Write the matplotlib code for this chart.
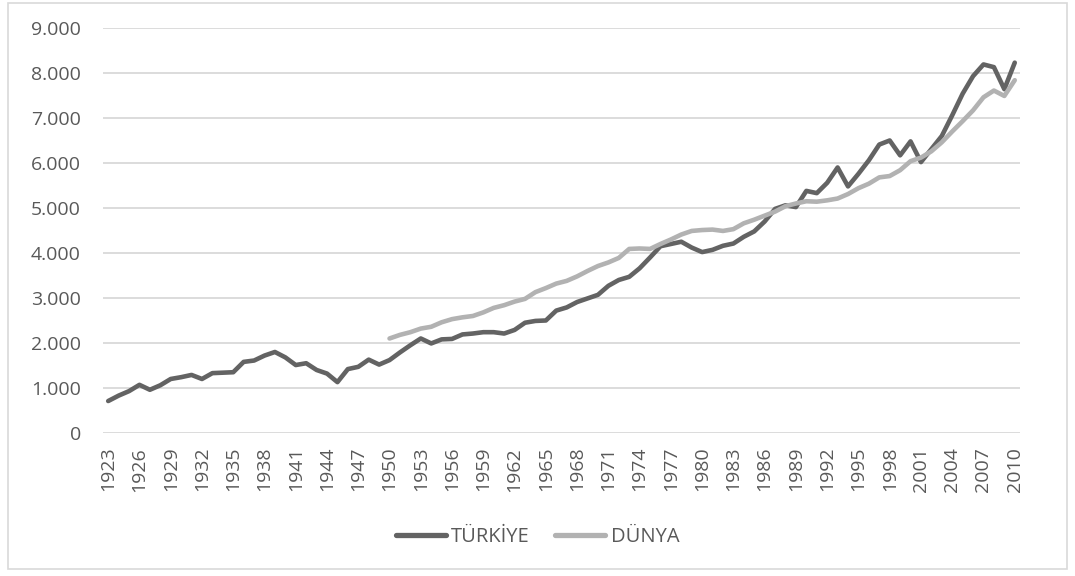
import numpy as np
import matplotlib
matplotlib.use('Agg')
import matplotlib.pyplot as plt
from matplotlib.ticker import FuncFormatter, FixedLocator
from matplotlib.patches import Rectangle

plt.rcParams['font.family'] = ['Open Sans', 'DejaVu Sans']

# Data
tr_years = list(range(1923, 2011))
tr_values = [710, 830, 930, 1070, 960, 1060, 1200, 1240, 1290, 1200,
             1330, 1340, 1350, 1580, 1610, 1720, 1800, 1680, 1510, 1550,
             1400, 1320, 1130, 1420, 1470, 1630, 1520, 1620, 1790, 1950,
             2100, 1990, 2080, 2090, 2190, 2210, 2240, 2240, 2210, 2290,
             2450, 2490, 2500, 2720, 2790, 2910, 2990, 3070, 3270, 3400,
             3470, 3660, 3900, 4150, 4200, 4250, 4120, 4020, 4070, 4160,
             4210, 4360, 4480, 4700, 4980, 5060, 5020, 5380, 5330, 5560,
             5900, 5480, 5760, 6060, 6410, 6500, 6170, 6480, 6020, 6310,
             6600, 7060, 7540, 7930, 8190, 8130, 7640, 8230]

world_years = list(range(1950, 2011))
world_values = [2100, 2180, 2240, 2320, 2360, 2460, 2530, 2570, 2600, 2680,
                2780, 2840, 2920, 2980, 3130, 3220, 3320, 3380, 3480, 3600,
                3710, 3790, 3890, 4090, 4100, 4090, 4200, 4300, 4410, 4490,
                4510, 4520, 4490, 4530, 4660, 4740, 4830, 4920, 5040, 5100,
                5150, 5140, 5170, 5210, 5310, 5440, 5540, 5680, 5710, 5840,
                6040, 6120, 6260, 6460, 6700, 6930, 7170, 7460, 7610, 7490,
                7840]

series_names = ['TÜRKİYE', 'DÜNYA']
tick_years = list(range(1923, 2011, 3))
y_ticks = list(range(0, 9001, 1000))

text_col = '#595959'
grid_col = '#d9d9d9'

fig = plt.figure(figsize=(10.75, 5.76), dpi=100)
ax = fig.add_axes([0.0958, 0.2483, 0.853, 0.7031])

ax.plot(tr_years, tr_values, color='#636363', lw=3.3,
        solid_capstyle='round', solid_joinstyle='round', label=series_names[0], zorder=3)
ax.plot(world_years, world_values, color='#b2b2b2', lw=3.3,
        solid_capstyle='round', solid_joinstyle='round', label=series_names[1], zorder=3)

ax.set_xlim(1922.5, 2010.5)
ax.set_ylim(0, 9000)
ax.yaxis.set_major_locator(FixedLocator(y_ticks))
ax.yaxis.set_major_formatter(FuncFormatter(lambda v, p: f'{int(v):,}'.replace(',', '.')))
ax.set_xticks(tick_years)
ax.set_xticklabels([str(y) for y in tick_years], rotation=90)

ax.grid(axis='y', color=grid_col, lw=1.3)
ax.set_axisbelow(True)
for s in ax.spines.values():
    s.set_visible(False)
ax.tick_params(axis='both', length=0, colors=text_col, labelsize=14)
ax.tick_params(axis='y', pad=16)
ax.tick_params(axis='x', pad=10)

leg = fig.legend(loc='center', bbox_to_anchor=(0.5, 0.068), ncol=2, frameon=False,
                 fontsize=14.5, handlelength=2.5, handletextpad=0.25, columnspacing=1.25)
for t in leg.get_texts():
    t.set_color(text_col)
for l in leg.get_lines():
    l.set_linewidth(3.8)

fig.patches.append(Rectangle((0.0075, 0.012), 0.985, 0.982, transform=fig.transFigure,
                             fill=False, edgecolor=grid_col, lw=1.2))

fig.savefig('out.png', dpi=100)
